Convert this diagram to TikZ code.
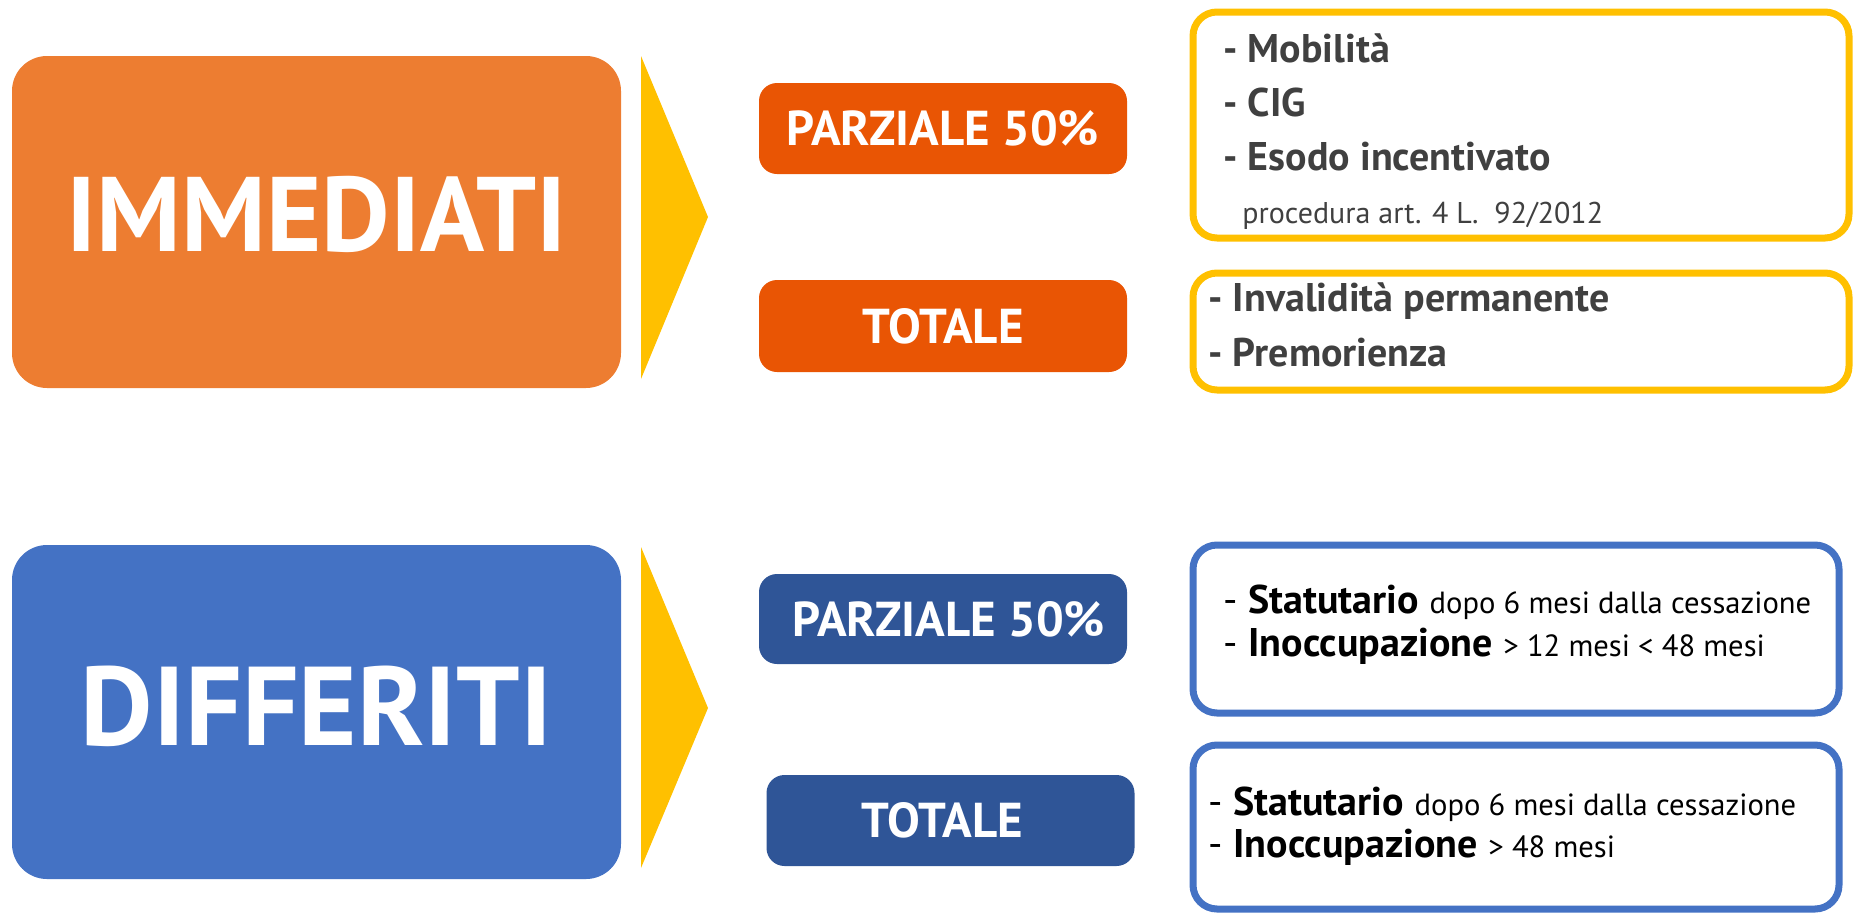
\documentclass[tikz,border=0pt]{standalone}
\usepackage{fontspec}
\setmainfont{PT Sans}
\definecolor{bigorange}{HTML}{ED7D31}
\definecolor{smallorange}{HTML}{E95504}
\definecolor{bigblue}{HTML}{4472C4}
\definecolor{smallblue}{HTML}{2F5597}
\definecolor{chev}{HTML}{FFC000}
\definecolor{darktext}{HTML}{404040}
\tikzset{
  bigbox/.style={rounded corners=17.5pt, minimum width=304.5pt, minimum height=166pt, inner sep=0pt},
  bigtext/.style={text=white, font=\bfseries\fontsize{55}{60}\selectfont, inner sep=0pt},
  tagbox/.style={rounded corners=9pt, minimum width=184pt, minimum height=45.5pt, inner sep=0pt, text=white, font=\bfseries\fontsize{24.5}{28}\selectfont},
  listbox/.style={draw, line width=3.5pt, rounded corners=12pt, fill=white},
  item/.style={anchor=base west, inner sep=0pt, font=\bfseries\fontsize{20}{24}\selectfont, text=darktext},
  smallitem/.style={anchor=base west, inner sep=0pt, font=\fontsize{15}{18}\selectfont, text=darktext},
  bitem/.style={anchor=base west, inner sep=0pt, text=black, font=\fontsize{20}{24}\selectfont},
}
\newcommand{\sm}[1]{{\fontsize{15.3}{18}\selectfont #1}}
\begin{document}
\begin{tikzpicture}[x=0.5pt,y=-0.5pt]
\useasboundingbox (0,0) rectangle (1857,916);
% big boxes
\node[bigbox, fill=bigorange] (imm) at (316.5,222) {};
\node[bigtext, font=\bfseries\fontsize{53}{58}\selectfont] (immt) at (316.5,214) {IMMEDIATI};
\node[bigbox, fill=bigblue, minimum height=167pt] (dif) at (316.5,712) {};
\node[bigtext, font=\bfseries\fontsize{56}{60}\selectfont] (dift) at (316.5,706) {DIFFERITI};
% chevrons
\fill[chev] (641,56) -- (708,217) -- (641,379) -- cycle;
\fill[chev] (641,547) -- (708,708) -- (641,868) -- cycle;
% tags
\node[tagbox, fill=smallorange] (p1) at (943,128.5) {PARZIALE 50\%};
\node[tagbox, fill=smallorange, minimum height=46pt] (t1) at (943,326) {TOTALE};
\node[tagbox, fill=smallblue, minimum height=45pt] (p2) at (943,619) {\hspace*{6pt}PARZIALE 50\%};
\node[tagbox, fill=smallblue] (t2) at (950.5,820.5) {\hspace*{-8pt}TOTALE};
% list boxes
\draw[listbox, draw=chev] (1193,12) rectangle (1849,238);
\draw[listbox, draw=chev] (1193,273) rectangle (1849,390);
\draw[listbox, draw=bigblue] (1193,545) rectangle (1839,713);
\draw[listbox, draw=bigblue] (1193,745) rectangle (1839,909);
% list texts
\node[item] (a1) at (1223,62) {- Mobilità};
\node[item] (a2) at (1223,116) {- CIG};
\node[item] (a3) at (1223,170) {- Esodo incentivato};
\node[smallitem] (a4) at (1242,223) {procedura art. 4 L.\ \ 92/2012};
\node[item] (b1) at (1208,311) {- Invalidità permanente};
\node[item] (b2) at (1208,366) {- Premorienza};
\node[bitem] (c1) at (1223,613) {- \textbf{Statutario} \sm{dopo 6 mesi dalla cessazione}};
\node[bitem] (c2) at (1223,656) {- \textbf{Inoccupazione} \sm{> 12 mesi < 48 mesi}};
\node[bitem] (d1) at (1208,815) {- \textbf{Statutario} \sm{dopo 6 mesi dalla cessazione}};
\node[bitem] (d2) at (1208,857) {- \textbf{Inoccupazione} \sm{> 48 mesi}};
\end{tikzpicture}
\end{document}
